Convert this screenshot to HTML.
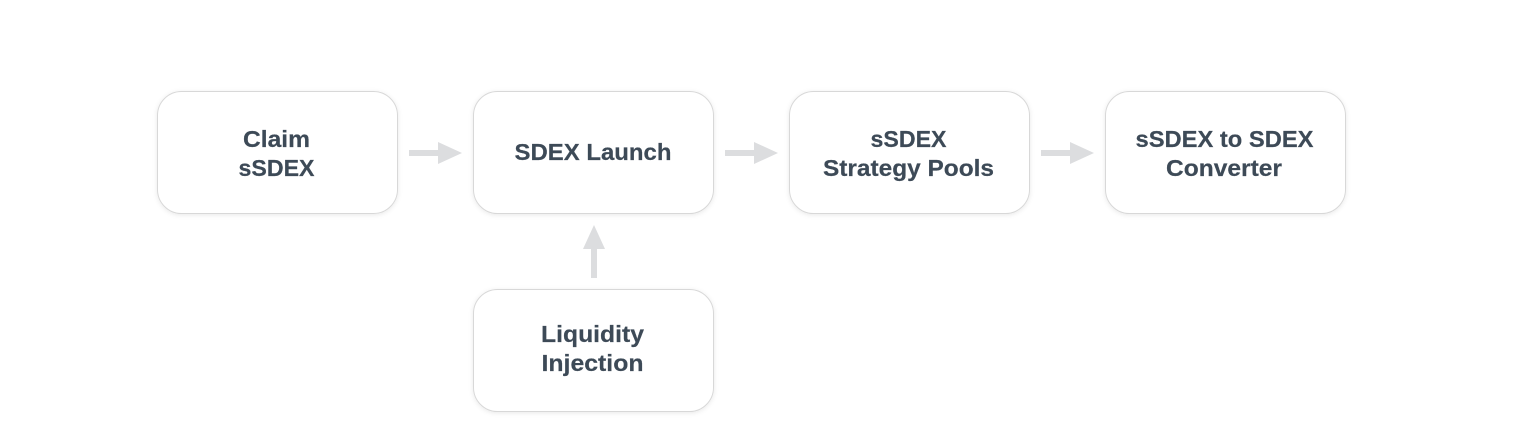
<!DOCTYPE html>
<html>
<head>
<meta charset="utf-8">
<style>
html,body{margin:0;padding:0;background:#fff;width:1514px;height:445px;overflow:hidden}
svg{display:block}
text{font-family:"Liberation Sans",sans-serif;font-weight:700;font-size:23px;fill:#3d4a57;stroke:#3d4a57;stroke-width:0.2px;text-anchor:middle}
.box{fill:#fff;stroke:#d8d8d8;stroke-width:1}
.arrow{fill:#dcdddf}
</style>
</head>
<body>
<svg width="1514" height="445" viewBox="0 0 1514 445" xmlns="http://www.w3.org/2000/svg">
<defs>
<filter id="s" x="-10%" y="-15%" width="120%" height="135%">
<feDropShadow dx="0" dy="1" stdDeviation="2.5" flood-color="#000" flood-opacity="0.09"/>
</filter>
</defs>
<rect class="box" filter="url(#s)" x="157.5" y="91.5" width="240" height="122" rx="24"/>
<rect class="box" filter="url(#s)" x="473.5" y="91.5" width="240" height="122" rx="24"/>
<rect class="box" filter="url(#s)" x="789.5" y="91.5" width="240" height="122" rx="24"/>
<rect class="box" filter="url(#s)" x="1105.5" y="91.5" width="240" height="122" rx="24"/>
<rect class="box" filter="url(#s)" x="473.5" y="289.5" width="240" height="122" rx="24"/>

<polygon class="arrow" points="409,150 438,150 438,142 462,153 438,164 438,156 409,156"/>
<polygon class="arrow" points="725,150 754,150 754,142 778,153 754,164 754,156 725,156"/>
<polygon class="arrow" points="1041,150 1070,150 1070,142 1094,153 1070,164 1070,156 1041,156"/>
<polygon class="arrow" points="591,278 591,249 583,249 594,225 605,249 597,249 597,278"/>

<text x="276.5" y="147" textLength="67" lengthAdjust="spacingAndGlyphs">Claim</text>
<text x="276.5" y="176" textLength="76" lengthAdjust="spacingAndGlyphs">sSDEX</text>
<text x="593" y="160" textLength="157" lengthAdjust="spacingAndGlyphs">SDEX Launch</text>
<text x="908.5" y="147" textLength="76" lengthAdjust="spacingAndGlyphs">sSDEX</text>
<text x="908.5" y="176" textLength="171" lengthAdjust="spacingAndGlyphs">Strategy Pools</text>
<text x="1224.5" y="147" textLength="178" lengthAdjust="spacingAndGlyphs">sSDEX to SDEX</text>
<text x="1224" y="176" textLength="116" lengthAdjust="spacingAndGlyphs">Converter</text>
<text x="592.5" y="342" textLength="103" lengthAdjust="spacingAndGlyphs">Liquidity</text>
<text x="592.5" y="371" textLength="102" lengthAdjust="spacingAndGlyphs">Injection</text>
</svg>
</body>
</html>
